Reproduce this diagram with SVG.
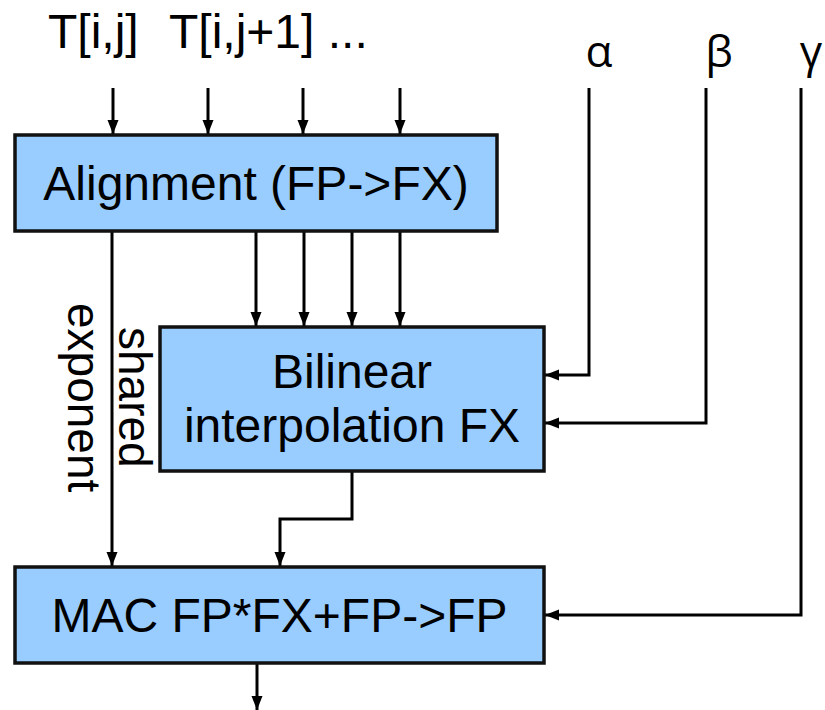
<svg xmlns="http://www.w3.org/2000/svg" width="825" height="710" viewBox="0 0 825 710">
<defs>
<marker id="arr" markerUnits="userSpaceOnUse" markerWidth="15" markerHeight="12" refX="14" refY="5.5" orient="auto">
<path d="M0,0 L14,5.5 L0,11 z" fill="#000"/>
</marker>
<style>
.box{fill:#99ccff;stroke:#111;stroke-width:3.5}
.t{font-family:"Liberation Sans",Arial,sans-serif;font-size:48px;fill:#000}
.v{font-family:"Liberation Sans",Arial,sans-serif;font-size:46px;fill:#000}
.g{font-family:"Open Sans","DejaVu Sans",sans-serif;font-size:44px;fill:#000}
.c{stroke:#000;stroke-width:3;fill:none}
.a{marker-end:url(#arr)}
</style>
</defs>
<rect width="825" height="710" fill="#fff"/>
<g id="labels">
<text class="t" x="48" y="48">T[i,j]</text>
<text class="t" x="169" y="48">T[i,j+1] ...</text>
<text class="g" x="599" y="67" text-anchor="middle">α</text>
<text class="g" x="719" y="67" text-anchor="middle">β</text>
<text class="g" x="811" y="67" text-anchor="middle">γ</text>
<text class="v" transform="translate(68,303) rotate(90)">exponent</text>
<text class="v" transform="translate(119,327) rotate(90)">shared</text>
</g>
<g id="connectors">
<path class="c a" d="M113,88 V134"/>
<path class="c a" d="M208,88 V134"/>
<path class="c a" d="M303,88 V134"/>
<path class="c a" d="M400,88 V134"/>
<path class="c a" d="M256,231 V326"/>
<path class="c a" d="M304,231 V326"/>
<path class="c a" d="M352,231 V326"/>
<path class="c a" d="M400,231 V326"/>
<path class="c a" d="M112,231 V566"/>
<path class="c a" d="M352,471 V519 H280 V566"/>
<path class="c a" d="M589,88 V375 H545"/>
<path class="c a" d="M706,88 V423 H545"/>
<path class="c a" d="M801,88 V615 H545"/>
<path class="c a" d="M257,663 V710"/>
</g>
<g id="alignment">
<rect class="box" x="15" y="135" width="482" height="96"/>
<text class="t" x="256" y="200" text-anchor="middle">Alignment (FP-&gt;FX)</text>
</g>
<g id="bilinear">
<rect class="box" x="160" y="327" width="384" height="144"/>
<text class="t" x="352" y="388" text-anchor="middle">Bilinear</text>
<text class="t" x="352" y="442" text-anchor="middle">interpolation FX</text>
</g>
<g id="mac">
<rect class="box" x="15" y="567" width="529" height="96"/>
<text class="t" x="279.5" y="632" text-anchor="middle">MAC FP*FX+FP-&gt;FP</text>
</g>
</svg>
